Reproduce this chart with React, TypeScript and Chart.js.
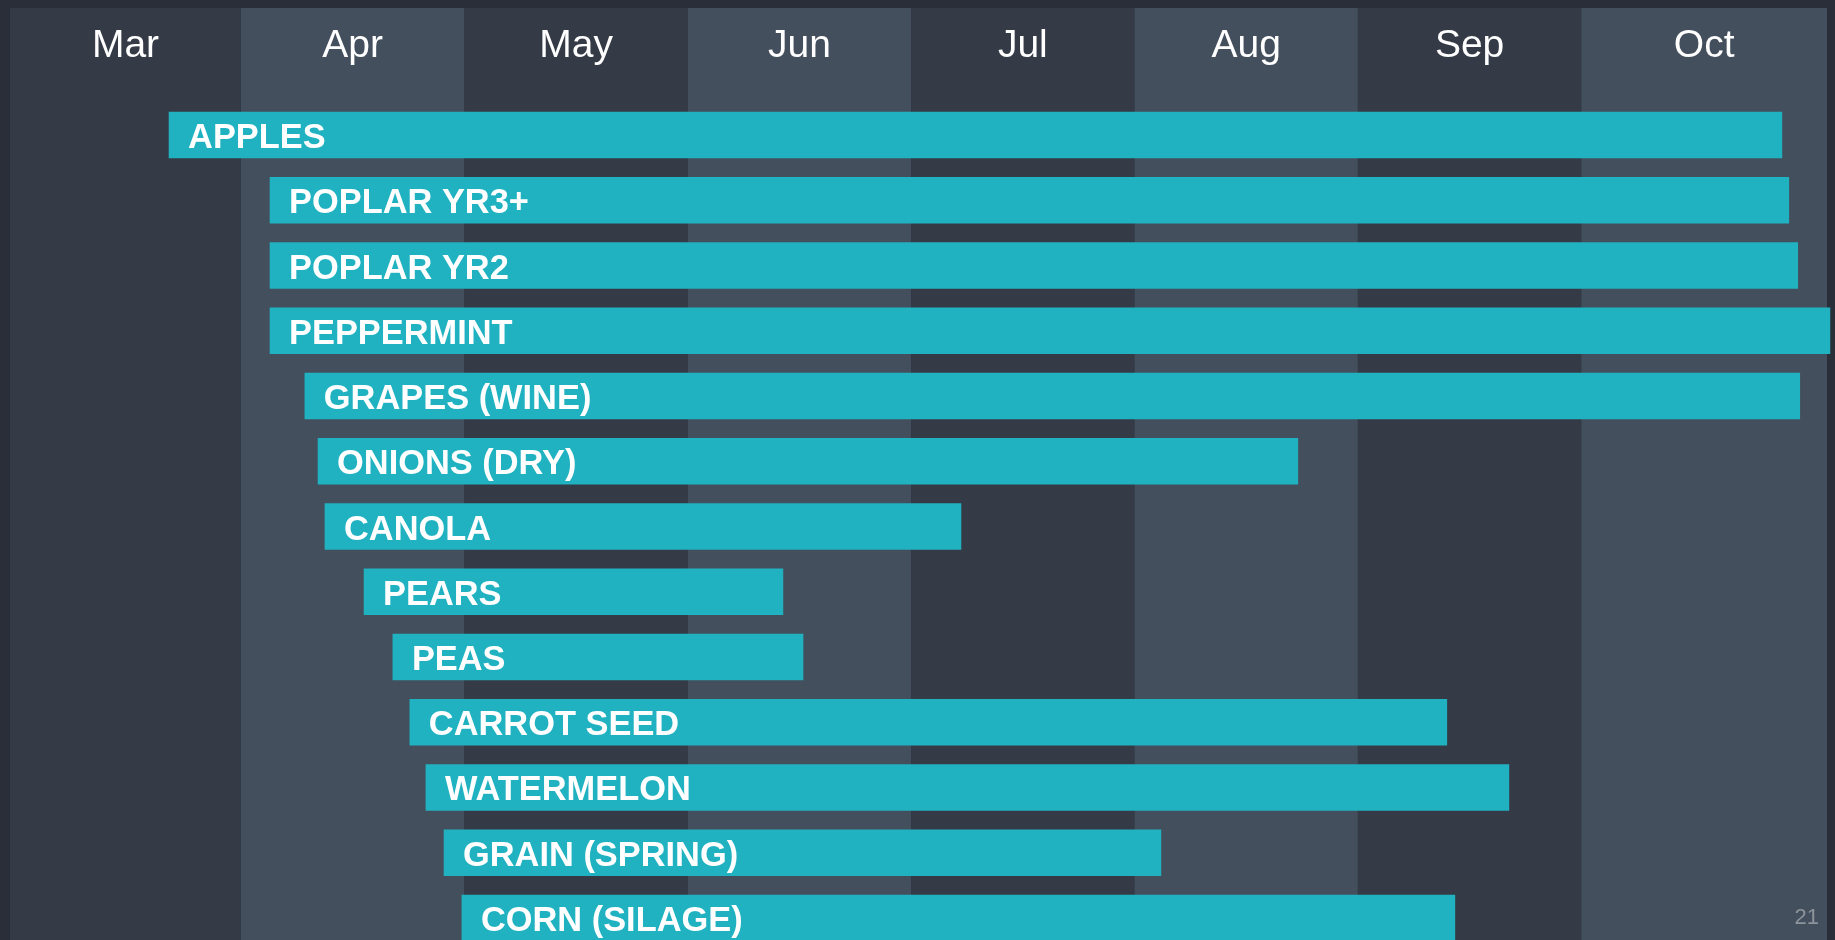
import React, { useEffect, useRef } from 'react';
import { Chart, registerables } from 'chart.js';

Chart.register(...registerables);

// Crops (top to bottom)
const crops = [
  'APPLES',
  'POPLAR YR3+',
  'POPLAR YR2',
  'PEPPERMINT',
  'GRAPES (WINE)',
  'ONIONS (DRY)',
  'CANOLA',
  'PEARS',
  'PEAS',
  'CARROT SEED',
  'WATERMELON',
  'GRAIN (SPRING)',
  'CORN (SILAGE)',
];

// Season start / end, in months counted from 1 April
const startMonth = [-0.322, 0.13, 0.13, 0.13, 0.286, 0.345, 0.376, 0.551, 0.68, 0.756, 0.828, 0.909, 0.989];
const endMonth = [6.898, 6.929, 6.969, 7.113, 6.978, 4.731, 3.223, 2.426, 2.516, 5.398, 5.676, 4.118, 5.434];

// Month columns
const monthLabels = ['Mar', 'Apr', 'May', 'Jun', 'Jul', 'Aug', 'Sep', 'Oct'];
const monthEdges = [-1.034, 0, 1, 2, 3, 4, 5, 6, 7.1];

const pageNumber = '21';

const FONT = '"Liberation Sans", Arial, Helvetica, sans-serif';
const OUTER_BG = '#292e38';
const DARK_BAND = '#343a46';
const LIGHT_BAND = '#434f5d';
const BAR_COLOR = '#20b2c1';

const bandsPlugin = {
  id: 'bands',
  beforeDraw(chart: any) {
    const { ctx, scales } = chart;
    const xs = scales.x;
    ctx.save();
    ctx.fillStyle = OUTER_BG;
    ctx.fillRect(0, 0, chart.width, chart.height);
    for (let i = 0; i < monthLabels.length; i++) {
      const x0 = xs.getPixelForValue(monthEdges[i]);
      const x1 = xs.getPixelForValue(monthEdges[i + 1]);
      ctx.fillStyle = i % 2 === 0 ? DARK_BAND : LIGHT_BAND;
      ctx.fillRect(x0, xs.top, x1 - x0, chart.height - xs.top);
    }
    ctx.restore();
  },
};

const labelsPlugin = {
  id: 'barLabels',
  afterDatasetsDraw(chart: any) {
    const { ctx } = chart;
    const meta = chart.getDatasetMeta(0);
    ctx.save();
    ctx.font = `bold 34.4px ${FONT}`;
    ctx.fillStyle = '#ffffff';
    ctx.textAlign = 'left';
    ctx.textBaseline = 'middle';
    meta.data.forEach((el: any, i: number) => {
      const { x, base, y } = el.getProps(['x', 'base', 'y'], true);
      ctx.fillText(crops[i], Math.min(x, base) + 19, y + 3.5);
    });
    ctx.restore();
  },
  afterDraw(chart: any) {
    const { ctx } = chart;
    ctx.save();
    ctx.font = `22px ${FONT}`;
    ctx.fillStyle = '#8d939b';
    ctx.textAlign = 'right';
    ctx.textBaseline = 'alphabetic';
    ctx.fillText(pageNumber, chart.width - 16, chart.height - 16);
    ctx.restore();
  },
};

export default function App() {
  const canvasRef = useRef<HTMLCanvasElement | null>(null);

  useEffect(() => {
    document.body.style.margin = '0';
    document.body.style.background = OUTER_BG;
    document.body.style.overflow = 'hidden';
    const canvas = canvasRef.current;
    if (!canvas) return;
    const chart = new Chart(canvas, {
      type: 'bar',
      data: {
        labels: crops,
        datasets: [
          {
            label: 'Season',
            data: crops.map((_, i) => ({ x: [startMonth[i], endMonth[i]], y: i })) as any,
            backgroundColor: BAR_COLOR,
            borderWidth: 0,
            barThickness: 46,
            clip: false as any,
          },
        ],
      },
      options: {
        indexAxis: 'y',
        animation: false,
        responsive: false,
        maintainAspectRatio: false,
        devicePixelRatio: 1,
        layout: { padding: { left: 10, right: 8, top: 8, bottom: 0 } },
        plugins: {
          legend: { display: false },
          tooltip: { enabled: false },
          title: { display: false },
        },
        scales: {
          x: {
            type: 'linear',
            position: 'top',
            offset: false,
            min: monthEdges[0],
            max: monthEdges[monthEdges.length - 1],
            grid: { display: false, drawTicks: false },
            border: { display: false },
            ticks: {
              autoSkip: false,
              maxRotation: 0,
              minRotation: 0,
              padding: 33,
              color: '#ffffff',
              font: { family: FONT, size: 39 },
              callback: (_v: any, i: number) => monthLabels[i],
            },
            afterBuildTicks: (s: any) => {
              s.ticks = monthLabels.map((_, i) => ({ value: (monthEdges[i] + monthEdges[i + 1]) / 2 }));
            },
            afterFit: (s: any) => {
              s.height = 94.4;
            },
          },
          y: {
            type: 'linear',
            display: false,
            offset: false,
            reverse: true,
            min: -0.5,
            max: 12.337,
          },
        },
      },
      plugins: [bandsPlugin, labelsPlugin],
    } as any);
    return () => chart.destroy();
  }, []);

  return (
    <div style={{ width: 1835, height: 940, overflow: 'hidden' }}>
      <canvas ref={canvasRef} width={1835} height={940} style={{ display: 'block' }} />
    </div>
  );
}
